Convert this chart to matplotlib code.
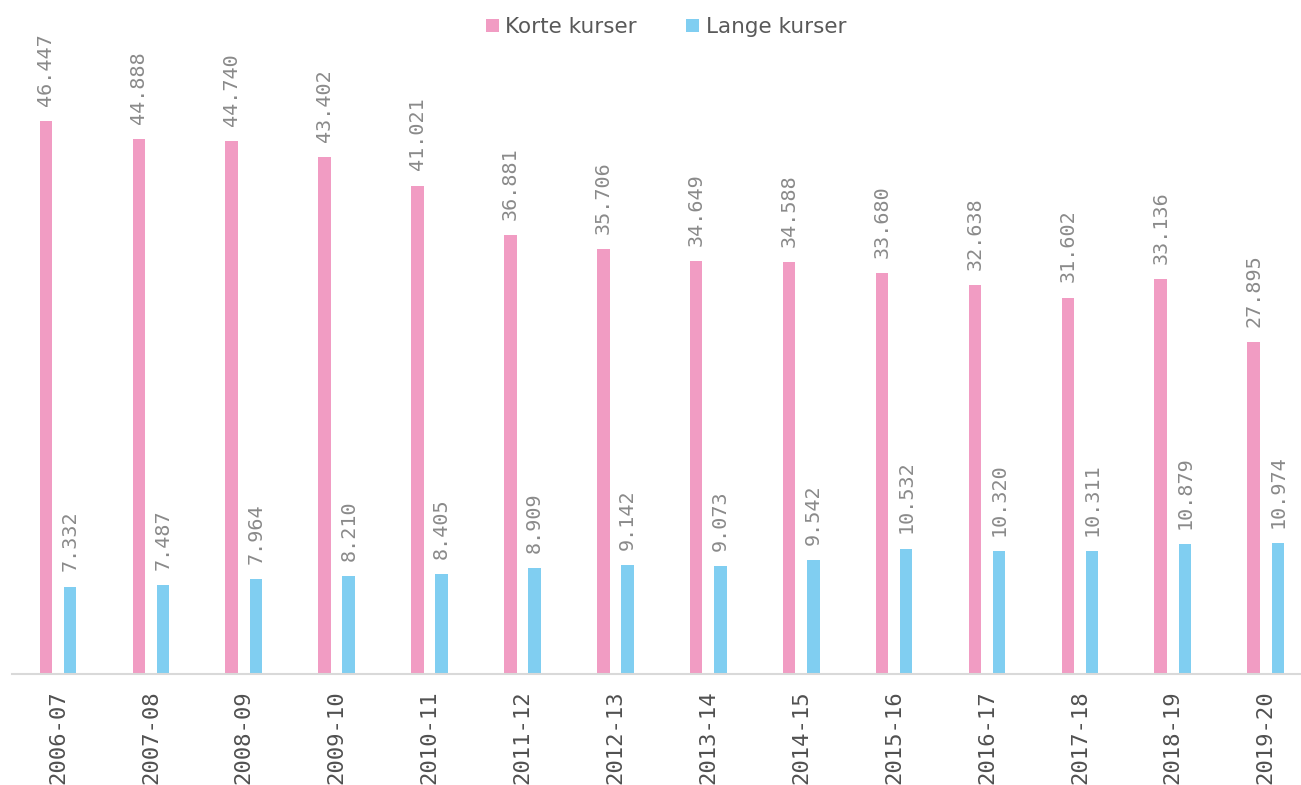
import numpy as np
import matplotlib
matplotlib.use('Agg')
import matplotlib.pyplot as plt

# skoleår og antal kursister
years = ['2006-07', '2007-08', '2008-09', '2009-10', '2010-11', '2011-12', '2012-13',
         '2013-14', '2014-15', '2015-16', '2016-17', '2017-18', '2018-19', '2019-20']
korte = [46447, 44888, 44740, 43402, 41021, 36881, 35706, 34649, 34588, 33680,
         32638, 31602, 33136, 27895]
lange = [7332, 7487, 7964, 8210, 8405, 8909, 9142, 9073, 9542, 10532, 10320,
         10311, 10879, 10974]

pink = '#F19CC3'
blue = '#80CEF1'


def fmt(v):
    return f'{v:,}'.replace(',', '.')


fig = plt.figure(figsize=(13.01, 7.85), dpi=100)
ax = fig.add_axes([12 / 1301, 111 / 785, 1289 / 1301, 674 / 785])

x = np.arange(len(years))
w = 0.135
off = 0.13
b1 = ax.bar(x - off, korte, width=w, color=pink, label='Korte kurser')
b2 = ax.bar(x + off, lange, width=w, color=blue, label='Lange kurser')

for bars, vals in [(b1, korte), (b2, lange)]:
    for r, v in zip(bars, vals):
        ax.annotate(fmt(v), (r.get_x() + r.get_width() / 2, r.get_height()),
                    xytext=(0, 11), textcoords='offset points',
                    rotation=90, ha='center', va='bottom',
                    fontsize=14.5, color='#8A8A8A', family='DejaVu Sans Mono')

ax.set_xlim(-0.495, 13.38)
ax.set_ylim(0, 56600)
ax.set_xticks(x)
ax.set_xticklabels(years, rotation=90, fontsize=16, color='#505050',
                   family='DejaVu Sans Mono')
ax.tick_params(axis='x', length=0, pad=12)
ax.set_yticks([])
for s in ['top', 'right', 'left']:
    ax.spines[s].set_visible(False)
ax.spines['bottom'].set_color('#D9D9D9')
ax.spines['bottom'].set_linewidth(1.5)

fig.legend(loc='center', bbox_to_anchor=(0.512, 1 - 27 / 785), ncol=2,
           frameon=False, fontsize=15.5, labelcolor='#595959',
           handlelength=0.6, handleheight=0.6, handletextpad=0.3,
           columnspacing=2.3)

fig.savefig('out.png', dpi=100)
